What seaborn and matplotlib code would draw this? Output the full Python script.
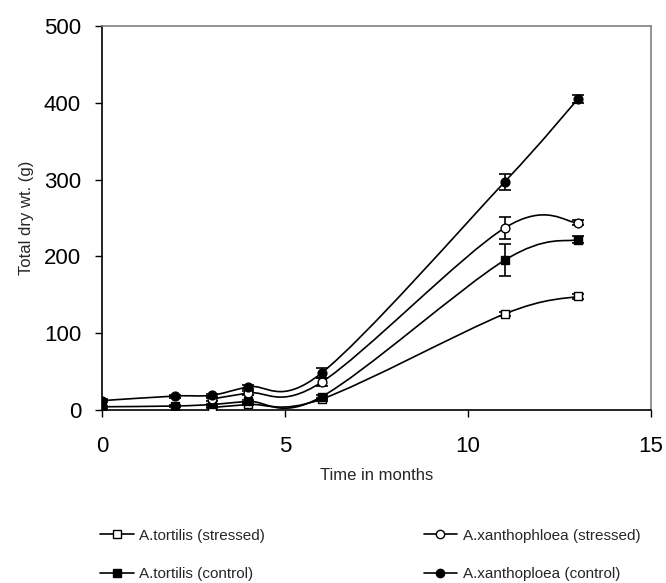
import matplotlib
matplotlib.use("Agg")
import matplotlib.pyplot as plt
from matplotlib.path import Path
from matplotlib.patches import PathPatch
from matplotlib.lines import Line2D
import numpy as np
import pandas as pd
import seaborn as sns

# time points (months)
months_control = [0, 2, 3, 4, 6, 11, 13]
months_stressed = [3, 4, 6, 11, 13]

# total dry weight (g) and error bars
tortilis_stressed = [3, 7, 14, 125, 148]
tortilis_stressed_err = [1, 1, 2, 3, 3]
xantho_stressed = [14, 22, 36, 237, 244]
xantho_stressed_err = [2, 3, 5, 14, 3]
tortilis_control = [4, 5, 7, 11, 17, 195, 222]
tortilis_control_err = [1, 1, 1, 2, 3, 21, 4]
xantho_control = [12, 18, 19, 30, 48, 297, 405]
xantho_control_err = [2, 2, 2, 3, 7, 10, 5]

labels = ["A.tortilis (stressed)", "A.tortilis (control)",
          "A.xanthophloea (stressed)", "A.xanthoploea (control)"]

series = [
    (labels[0], months_stressed, tortilis_stressed, tortilis_stressed_err, "s", "white"),
    (labels[1], months_control, tortilis_control, tortilis_control_err, "s", "black"),
    (labels[2], months_stressed, xantho_stressed, xantho_stressed_err, "o", "white"),
    (labels[3], months_control, xantho_control, xantho_control_err, "o", "black"),
]


def smooth_path(x, y):
    # Excel-style smoothed line: cubic bezier through the points
    pts = np.column_stack([x, y]).astype(float)
    ext = np.vstack([pts[0], pts, pts[-1]])
    verts = [pts[0]]
    codes = [Path.MOVETO]
    for i in range(len(pts) - 1):
        p0, p1, p2, p3 = ext[i], ext[i + 1], ext[i + 2], ext[i + 3]
        verts += [p1 + (p2 - p0) / 6, p2 - (p3 - p1) / 6, p2]
        codes += [Path.CURVE4] * 3
    return Path(verts, codes)


sns.set_theme(style="white")
plt.rcParams["font.family"] = ["Liberation Sans", "DejaVu Sans"]

fig = plt.figure(figsize=(6.66, 5.83), dpi=100)
ax = fig.add_axes([0.153, 0.297, 0.8245, 0.658])

for name, x, y, err, mk, fc in series:
    ax.add_patch(PathPatch(smooth_path(x, y), fill=False, lw=1.2,
                           edgecolor="black", zorder=2))
    ax.errorbar(x, y, yerr=err, fmt="none", ecolor="black", elinewidth=1.2,
                capsize=4.3, capthick=1.2, zorder=3)
    df = pd.DataFrame({"month": x, "weight": y})
    sns.scatterplot(data=df, x="month", y="weight", marker=mk, s=40,
                    color=fc, edgecolor="black", linewidth=1.0, ax=ax, zorder=4)

ax.set_xlim(0, 15)
ax.set_ylim(0, 500)
ax.set_xticks([0, 5, 10, 15])
ax.set_yticks([0, 100, 200, 300, 400, 500])
ax.set_xlabel("Time in months", fontsize=12, labelpad=8)
ax.set_ylabel("Total dry wt. (g)", fontsize=12, labelpad=7)
ax.tick_params(axis="both", labelsize=16, direction="out", length=5,
               width=1, color="black", colors="black")
ax.tick_params(axis="x", pad=14, bottom=True)
ax.tick_params(axis="y", pad=10, left=True)

for side in ["left", "bottom"]:
    ax.spines[side].set_color("black")
    ax.spines[side].set_linewidth(1.2)
for side in ["top", "right"]:
    ax.spines[side].set_color("#808080")
    ax.spines[side].set_linewidth(1.2)

handles = [Line2D([], [], color="black", lw=1.2, marker=mk, markersize=6,
                  markerfacecolor=fc, markeredgecolor="black")
           for _, _, _, _, mk, fc in series]
fig.legend(handles, labels, ncol=2, loc="upper left",
           bbox_to_anchor=(0.15, 0.093), frameon=False, fontsize=11,
           handlelength=2.2, handletextpad=0.35, columnspacing=10.4,
           labelspacing=1.6, borderpad=0, borderaxespad=0)

fig.savefig("out.png", dpi=100)
